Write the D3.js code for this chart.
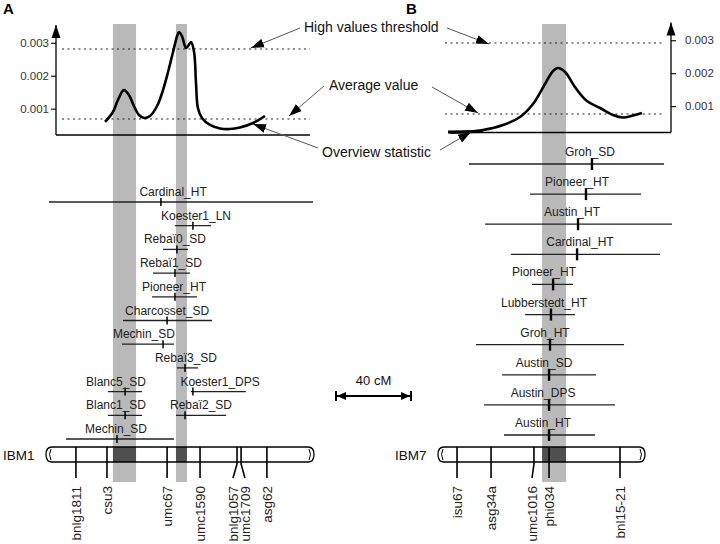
<!DOCTYPE html>
<html>
<head>
<meta charset="utf-8">
<script src="https://d3js.org/d3.v7.min.js"></script>
<style>
  body { margin: 0; background: #fff; }
  svg { font-family: "Liberation Sans", Arial, sans-serif; }
</style>
</head>
<body>
<svg width="720" height="544"></svg>
<script>
// ---- data (positions in cM, statistic values) ----
var curveA_cM = [29.6, 33.7, 36.3, 39.4, 42.0, 44.6, 47.2, 49.8, 52.9, 56.6, 59.7, 62.3, 64.9, 67.0, 68.0, 69.5, 71.6, 72.7, 74.2, 75.8, 76.8, 77.8, 79.9, 84.1, 89.3, 94.4, 99.6, 106.4, 112.6]
var curveA_val = [0.000595, 0.000898, 0.001263, 0.001566, 0.001414, 0.001080, 0.000807, 0.000716, 0.000777, 0.001080, 0.001566, 0.002113, 0.002720, 0.003205, 0.003327, 0.003205, 0.002841, 0.002902, 0.003023, 0.002720, 0.001779, 0.001020, 0.000716, 0.000504, 0.000397, 0.000382, 0.000428, 0.000564, 0.000777]
var curveB_cM = [5.2, 12.9, 22.2, 32.6, 41.4, 48.1, 54.3, 58.5, 61.0, 64.7, 69.8, 76.0, 82.8, 89.5, 94.7, 99.8, 104.5]
var curveB_val = [0.0002, 0.000215, 0.000276, 0.000428, 0.000671, 0.001065, 0.001672, 0.002067, 0.002158, 0.002037, 0.001581, 0.001156, 0.000944, 0.000731, 0.000655, 0.000716, 0.000792]

var thresholdsA = {high: 0.002811, average: 0.000686}
var thresholdsB = {high: 0.002917, average: 0.000762}
var yTicks = [0.001, 0.002, 0.003]

var bandsA = [[33.7, 45.7], [66.4, 72.1]]
var bandsB = [[52.8, 65.2]]

// QTL: name, row, from, peak, to, label centre
var qtlA = [
	['Cardinal_HT', 0, 0.5, 58.6, 137.5, 64.9],
	['Koester1_LN', 1, 65.9, 75.2, 84.6, 76.8],
	['Rebaï0_SD', 2, 59.7, 66.9, 72.7, 65.9],
	['Rebaï1_SD', 3, 54.5, 65.9, 73.7, 63.8],
	['Pioneer_HT', 4, 54.0, 65.9, 77.3, 65.4],
	['Charcosset_SD', 5, 38.9, 61.8, 85.1, 61.8],
	['Mechin_SD', 6, 38.4, 59.7, 65.4, 49.8],
	['Rebaï3_SD', 7, 66.9, 71.1, 77.8, 71.6],
	['Blanc5_SD', 8, 31.1, 40.0, 48.8, 35.3],
	['Koester1_DPS', 8, 74.2, 75.2, 102.7, 89.3],
	['Blanc1_SD', 9, 31.1, 40.0, 48.8, 35.3],
	['Rebaï2_SD', 9, 66.4, 71.1, 92.4, 79.4],
	['Mechin_SD', 10, 9.3, 35.8, 65.4, 35.3]
]
var qtlB = [
	['Groh_SD', 0, 15.0, 78.6, 115.9, 77.6],
	['Pioneer_HT', 1, 46.6, 75.5, 104.0, 70.9],
	['Austin_HT', 2, 23.3, 71.4, 120.0, 68.3],
	['Cardinal_HT', 3, 36.7, 70.9, 113.8, 72.4],
	['Pioneer_HT', 4, 47.6, 58.5, 68.8, 53.8],
	['Lubberstedt_HT', 5, 44.0, 57.4, 69.8, 53.8],
	['Groh_HT', 6, 18.6, 56.9, 95.2, 54.3],
	['Austin_SD', 7, 32.1, 56.4, 80.7, 53.8],
	['Austin_DPS', 8, 22.8, 56.4, 90.5, 53.3],
	['Austin_HT', 9, 33.1, 56.4, 80.2, 53.3]
]

// markers: name, position, label position
var markersA = [
	['bnlg1811', 14.5, 14.5], ['csu3', 30.6, 30.6], ['umc67', 61.8, 61.8], ['umc1590', 78.9, 78.9],
	['bnlg1057', 98.1, 96.0], ['umc1709', 100.2, 102.2], ['asg62', 113.6, 113.6]
]
var markersB = [
	['isu67', 8.8, 8.8], ['asg34a', 26.4, 26.4], ['umc1016', 48.6, 47.6], ['phi034', 56.4, 56.4], ['bnl15-21', 93.1, 93.1]
]
var lengthA = 137, lengthB = 105, scaleBar = 40

// ---- drawing ----
var svg = d3.select('svg')
var defs = svg.append('defs')
defs.append('marker').attr('id', 'tri')
	.attr('viewBox', '0 -5 13 10').attr('refX', 13).attr('refY', 0)
	.attr('markerUnits', 'userSpaceOnUse')
	.attr('markerWidth', 13).attr('markerHeight', 10).attr('orient', 'auto')
	.append('path').attr('d', 'M0,-4.5L13,0L0,4.5Z').attr('fill', '#000')
defs.append('marker').attr('id', 'bar')
	.attr('viewBox', '0 -5 11 10').attr('refX', 11).attr('refY', 0)
	.attr('markerUnits', 'userSpaceOnUse')
	.attr('markerWidth', 11).attr('markerHeight', 10).attr('orient', 'auto-start-reverse')
	.append('path').attr('d', 'M0,-4L9,0L0,4Z M9,-5H11V5H9Z').attr('fill', '#000')

var xA = d3.scaleLinear().domain([0, lengthA]).range([48, 312])
var xB = d3.scaleLinear().domain([0, lengthB]).range([440, 643])
var yA = d3.scaleLinear().domain([0.0002, 0.0036]).range([135, 23])
var yB = d3.scaleLinear().domain([0.0002, 0.0036]).range([132.5, 20.5])
var rowA = d3.scaleLinear().domain([0, 10]).range([202, 439])
var rowB = d3.scaleLinear().domain([0, 9]).range([164, 435])

var bandTop = 24, bandBottom = 482
var chromTop = 447, chromBottom = 462

function panel(opt) {
	var g = svg.append('g')
	var x = opt.x, y = opt.y

	// grey bands
	g.selectAll('rect.band').data(opt.bands).enter().append('rect')
		.attr('x', function(d) { return x(d[0]) })
		.attr('width', function(d) { return x(d[1]) - x(d[0]) })
		.attr('y', bandTop).attr('height', bandBottom - bandTop)
		.attr('fill', '#b9b9b9')

	// threshold dotted lines
	;[opt.thr.high, opt.thr.average].forEach(function(v) {
		g.append('line').attr('x1', opt.dotX[0]).attr('x2', opt.dotX[1])
			.attr('y1', y(v)).attr('y2', y(v))
			.attr('stroke', '#222').attr('stroke-width', 1).attr('stroke-dasharray', '2,3.5')
	})

	// axes
	var base = y.range()[0]
	g.append('line').attr('x1', opt.baseX[0]).attr('x2', opt.baseX[1])
		.attr('y1', base).attr('y2', base).attr('stroke', '#000').attr('stroke-width', 1.3)
	g.append('line').attr('x1', opt.axisX).attr('x2', opt.axisX)
		.attr('y1', base).attr('y2', y.range()[1] + 2).attr('stroke', '#000').attr('stroke-width', 1.3)
		.attr('marker-end', 'url(#tri)')
	var axis = (opt.side === 'left' ? d3.axisLeft(y) : d3.axisRight(y))
		.tickValues(yTicks).tickFormat(d3.format('.3f')).tickSize(5).tickPadding(opt.side === 'left' ? 2 : 9)
	var ax = g.append('g').attr('transform', 'translate(' + opt.axisX + ',0)').call(axis)
	ax.select('.domain').remove()
	ax.selectAll('text').attr('font-size', 11.5).attr('fill', '#333').attr('font-family', null)
	ax.selectAll('line').attr('stroke-width', 1.1)

	// statistic curve
	var pts = d3.zip(opt.cM, opt.val)
	g.append('path').datum(pts)
		.attr('d', d3.line().x(function(d) { return x(d[0]) }).y(function(d) { return y(d[1]) })
			.curve(d3.curveCatmullRom.alpha(0.5)))
		.attr('fill', 'none').attr('stroke', '#000').attr('stroke-width', 2.6)

	// QTL intervals
	var q = g.selectAll('g.qtl').data(opt.qtl).enter().append('g')
	q.append('line')
		.attr('x1', function(d) { return x(d[2]) }).attr('x2', function(d) { return x(d[4]) })
		.attr('y1', function(d) { return opt.row(d[1]) }).attr('y2', function(d) { return opt.row(d[1]) })
		.attr('stroke', '#222').attr('stroke-width', 1.3)
	q.append('line')
		.attr('x1', function(d) { return x(d[3]) }).attr('x2', function(d) { return x(d[3]) })
		.attr('y1', function(d) { return opt.row(d[1]) - opt.tickH }).attr('y2', function(d) { return opt.row(d[1]) + opt.tickH })
		.attr('stroke', '#000').attr('stroke-width', opt.tickW)
	q.append('text')
		.attr('x', function(d) { return x(d[5]) })
		.attr('y', function(d) { return opt.row(d[1]) - opt.labelGap })
		.attr('text-anchor', 'middle').attr('font-size', 12).attr('fill', '#222')
		.text(function(d) { return d[0] })

	// chromosome
	var x0 = x(0), x1 = x(x.domain()[1]), ym = (chromTop + chromBottom) / 2
	var outline = 'M' + (x0 + 4) + ',' + chromTop + 'H' + (x1 - 4) +
		'Q' + (x1 + 2) + ',' + chromTop + ' ' + (x1 + 2) + ',' + ym +
		'Q' + (x1 + 2) + ',' + chromBottom + ' ' + (x1 - 4) + ',' + chromBottom +
		'H' + (x0 + 4) +
		'Q' + (x0 - 2) + ',' + chromBottom + ' ' + (x0 - 2) + ',' + ym +
		'Q' + (x0 - 2) + ',' + chromTop + ' ' + (x0 + 4) + ',' + chromTop + 'Z'
	g.append('path').attr('d', outline).attr('fill', '#fff')
	g.selectAll('rect.dark').data(opt.bands).enter().append('rect')
		.attr('x', function(d) { return x(d[0]) })
		.attr('width', function(d) { return x(d[1]) - x(d[0]) })
		.attr('y', chromTop).attr('height', chromBottom - chromTop)
		.attr('fill', '#4f4f4f')
	g.append('path').attr('d', outline).attr('fill', 'none').attr('stroke', '#000').attr('stroke-width', 1.3)
	g.append('path').attr('d', 'M' + (x0 + 3) + ',' + (chromTop + 2) + 'Q' + x0 + ',' + ym + ' ' + (x0 + 3) + ',' + (chromBottom - 2))
		.attr('fill', 'none').attr('stroke', '#000').attr('stroke-width', 1)
	g.append('path').attr('d', 'M' + (x1 - 3) + ',' + (chromTop + 2) + 'Q' + x1 + ',' + ym + ' ' + (x1 - 3) + ',' + (chromBottom - 2))
		.attr('fill', 'none').attr('stroke', '#000').attr('stroke-width', 1)
	g.append('text').attr('x', opt.nameX).attr('y', 460)
		.attr('font-size', 13.5).attr('fill', '#111').text(opt.name)

	// markers
	var m = g.selectAll('g.mk').data(opt.markers).enter().append('g')
	m.append('path')
		.attr('d', function(d) {
			return 'M' + x(d[1]) + ',' + chromTop + 'V' + (chromBottom + 2) + 'L' + x(d[2]) + ',478'
		})
		.attr('fill', 'none').attr('stroke', '#000').attr('stroke-width', 1.6)
	m.append('text')
		.attr('transform', function(d) { return 'translate(' + x(d[2]) + ',486) rotate(-90)' })
		.attr('dy', '0.36em').attr('text-anchor', 'end')
		.attr('font-size', 13.5).attr('fill', '#222')
		.text(function(d) { return d[0] })
	return g
}

panel({x: xA, y: yA, side: 'left', axisX: 56, baseX: [56, 310], dotX: [62, 310],
	bands: bandsA, thr: thresholdsA, cM: curveA_cM, val: curveA_val, qtl: qtlA, row: rowA,
	tickH: 4, tickW: 1.5, labelGap: 6, markers: markersA, name: 'IBM1', nameX: 3})
panel({x: xB, y: yB, side: 'right', axisX: 671, baseX: [448, 671], dotX: [445, 665],
	bands: bandsB, thr: thresholdsB, cM: curveB_cM, val: curveB_val, qtl: qtlB, row: rowB,
	tickH: 6, tickW: 2.4, labelGap: 8, markers: markersB, name: 'IBM7', nameX: 395})

// thick start of B curve lying on axis
svg.append('line').attr('x1', xB(curveB_cM[0]) - 2).attr('x2', xB(curveB_cM[2]))
	.attr('y1', yB(curveB_val[0]) - 0.5).attr('y2', yB(curveB_val[0]) - 1)
	.attr('stroke', '#000').attr('stroke-width', 3)

// panel letters
svg.append('text').attr('x', 3).attr('y', 14).attr('font-size', 15).attr('font-weight', 'bold').text('A')
svg.append('text').attr('x', 406).attr('y', 14).attr('font-size', 15).attr('font-weight', 'bold').text('B')

// annotations
var notes = [
	{text: 'High values threshold', x: 304, y: 32, arrows: [[300, 28, 251, 48], [447, 28, 489, 44]]},
	{text: 'Average value', x: 329, y: 90, arrows: [[324, 86, 289, 116], [432, 87, 478, 113]]},
	{text: 'Overview statistic', x: 322, y: 157, arrows: [[318, 148, 253, 124], [440, 150, 471, 132]]}
]
notes.forEach(function(n) {
	svg.append('text').attr('x', n.x).attr('y', n.y).attr('font-size', 14).attr('fill', '#111').text(n.text)
	n.arrows.forEach(function(a) {
		svg.append('line').attr('x1', a[0]).attr('y1', a[1]).attr('x2', a[2]).attr('y2', a[3])
			.attr('stroke', '#555').attr('stroke-width', 1).attr('marker-end', 'url(#tri)')
	})
})

// scale bar
var sb0 = 335
svg.append('line').attr('x1', sb0).attr('x2', sb0 + xA(scaleBar) - xA(0))
	.attr('y1', 396).attr('y2', 396).attr('stroke', '#000').attr('stroke-width', 2)
	.attr('marker-start', 'url(#bar)').attr('marker-end', 'url(#bar)')
svg.append('text').attr('x', sb0 + (xA(scaleBar) - xA(0)) / 2).attr('y', 385)
	.attr('text-anchor', 'middle').attr('font-size', 13).attr('fill', '#111').text(scaleBar + ' cM')
</script>
</body>
</html>
